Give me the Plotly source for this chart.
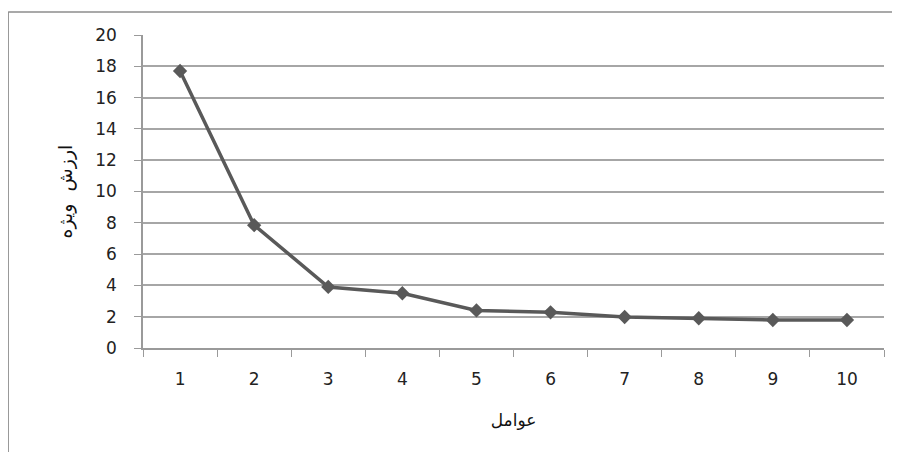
import plotly.graph_objects as go

factors = ["1", "2", "3", "4", "5", "6", "7", "8", "9", "10"]
eigenvalues = [17.7, 7.85, 3.9, 3.5, 2.4, 2.28, 1.98, 1.9, 1.79, 1.79]
y_ticks = [0, 2, 4, 6, 8, 10, 12, 14, 16, 18, 20]
x_title = "عوامل"
y_title = "ارزش  ویژه"

fig = go.Figure()
fig.add_trace(go.Scatter(
    x=factors, y=eigenvalues, mode="lines+markers",
    line=dict(color="#595959", width=3.5),
    marker=dict(symbol="diamond", size=11, color="#595959"),
    showlegend=False, hoverinfo="skip",
))

axis_font = dict(family="DejaVu Sans", size=17, color="#222222")

fig.update_layout(
    width=900, height=452,
    margin=dict(l=135, r=24, t=27, b=112),
    paper_bgcolor="white", plot_bgcolor="white",
    xaxis=dict(
        type="category", range=[-0.5, 9.5],
        showline=True, linecolor="#9a9a9a", linewidth=1.5,
        ticks="outside", tickson="boundaries", ticklen=7, tickcolor="#9a9a9a",
        tickfont=axis_font, showgrid=False, ticklabelstandoff=15,
        title=dict(text=x_title, font=dict(family="DejaVu Sans", size=17, color="#111"), standoff=26),
    ),
    yaxis=dict(
        range=[0, 20], tickvals=y_ticks,
        showline=True, linecolor="#9a9a9a", linewidth=1.5,
        ticks="outside", ticklen=7, tickcolor="#9a9a9a",
        showgrid=True, gridcolor="#a6a6a6", gridwidth=1.5,
        zeroline=False, tickfont=axis_font, ticklabelstandoff=14,
        title=dict(text=y_title, font=dict(family="DejaVu Sans", size=19, color="#111"), standoff=18),
    ),
    shapes=[
        dict(type="line", xref="paper", yref="paper", x0=-0.182, x1=1.0216, y0=1.0735, y1=1.0735,
             line=dict(color="#8c8c8c", width=1.5)),
        dict(type="line", xref="paper", yref="paper", x0=-0.182, x1=-0.182, y0=1.0735, y1=-0.38,
             line=dict(color="#8c8c8c", width=1.5)),
    ],
)

fig.write_html("out.html", config={"displayModeBar": False})
